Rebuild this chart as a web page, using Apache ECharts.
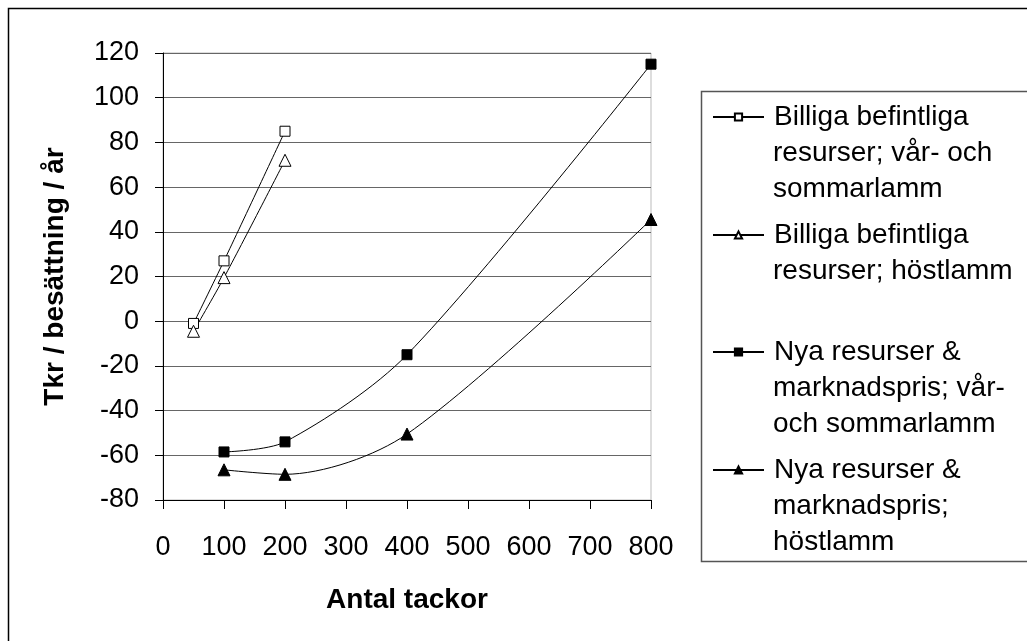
<!DOCTYPE html>
<html>
<head>
<meta charset="utf-8">
<script src="https://cdn.jsdelivr.net/npm/echarts@6/dist/echarts.min.js"></script>
<style>
html,body{margin:0;padding:0;background:#fff;}
#chart{width:1027px;height:641px;}
</style>
</head>
<body>
<div id="chart"></div>
<script>
// ---- data ----
const seriesNames = [
  'Billiga befintliga resurser; vår- och sommarlamm',
  'Billiga befintliga resurser; höstlamm',
  'Nya resurser & marknadspris; vår- och sommarlamm',
  'Nya resurser & marknadspris; höstlamm'
];
const legendLines = [
  ['Billiga befintliga', 'resurser; vår- och', 'sommarlamm'],
  ['Billiga befintliga', 'resurser; höstlamm'],
  ['Nya resurser &', 'marknadspris; vår-', 'och sommarlamm'],
  ['Nya resurser &', 'marknadspris;', 'höstlamm']
];
const xBillig = [50, 100, 200];
const yBilligVar = [-1, 27, 85];
const yBilligHost = [-4.5, 19.5, 72];
const xNya = [100, 200, 400, 800];
const yNyaVar = [-58.5, -54, -15, 115];
const yNyaHost = [-66.5, -68.5, -50.5, 45.5];
const xTitle = 'Antal tackor';
const yTitle = 'Tkr / besättning / år';

function pairs(xs, ys) { return xs.map((x, i) => [x, ys[i]]); }

const FONT = 'Liberation Sans, Arial, sans-serif';
const LEG_FS = 28;
const LEG_LH = 36;
const chart = echarts.init(document.getElementById('chart'));

const symbols = ['rect', 'triangle', 'rect', 'triangle'];
const fills = ['#fff', '#fff', '#000', '#000'];
const datas = [pairs(xBillig, yBilligVar), pairs(xBillig, yBilligHost), pairs(xNya, yNyaVar), pairs(xNya, yNyaHost)];
const sizes = [10, 12, 10, 12];

const iconY = [117, 235, 352, 470];
const textX = 773;
const legends = seriesNames.map((name, i) => ({
  data: [name],
  left: 712,
  top: iconY[i] - LEG_LH / 2,
  padding: 0,
  itemWidth: 51,
  itemHeight: 9,
  itemGap: 0,
  selectedMode: false,
  formatter: () => legendLines[i][0],
  textStyle: { fontFamily: FONT, fontSize: LEG_FS, color: '#000', lineHeight: LEG_LH, padding: [0, 0, 0, 5] }
}));

const graphics = [
  { type: 'rect', shape: { x: 8.5, y: 8.5, width: 1200, height: 800 }, style: { fill: 'none', stroke: '#000', lineWidth: 1.5 }, silent: true, z: -10 },
  { type: 'rect', shape: { x: 701.5, y: 91.5, width: 500, height: 470 }, style: { fill: '#fff', stroke: '#555', lineWidth: 1.5 }, silent: true, z: -5 }
];
legendLines.forEach((lines, i) => {
  lines.slice(1).forEach((ln, k) => {
    graphics.push({
      type: 'text', x: textX, y: iconY[i] + LEG_LH * (k + 1), silent: true, z: 10,
      style: { text: ln, fontFamily: FONT, fontSize: LEG_FS, fill: '#000', align: 'left', verticalAlign: 'middle' }
    });
  });
});

const option = {
  animation: false,
  backgroundColor: '#fff',
  legend: legends,
  grid: { left: 163, right: 376, top: 53, bottom: 141, show: true, borderColor: '#bbb', borderWidth: 1, containLabel: false },
  xAxis: {
    type: 'value', min: 0, max: 800, interval: 100,
    name: xTitle, nameLocation: 'middle', nameGap: 86,
    nameTextStyle: { fontFamily: FONT, fontSize: 28, fontWeight: 'bold', color: '#000' },
    axisLine: { show: true, onZero: false, lineStyle: { color: '#000', width: 1 } },
    axisTick: { show: true, inside: false, length: 9, lineStyle: { color: '#000' } },
    axisLabel: { fontFamily: FONT, fontSize: 27, color: '#000', margin: 34 },
    splitLine: { show: false }
  },
  yAxis: {
    type: 'value', min: -80, max: 120, interval: 20,
    name: yTitle, nameLocation: 'middle', nameGap: 94, nameRotate: 90,
    nameTextStyle: { fontFamily: FONT, fontSize: 28, fontWeight: 'bold', color: '#000' },
    axisLine: { show: true, lineStyle: { color: '#000', width: 1 } },
    axisTick: { show: true, inside: false, length: 8, lineStyle: { color: '#000' } },
    axisLabel: { fontFamily: FONT, fontSize: 27, color: '#000', margin: 24 },
    splitLine: { show: true, lineStyle: { color: '#666', width: 1 } }
  },
  graphic: graphics,
  series: seriesNames.map((name, i) => ({
    name: name,
    type: 'line',
    data: datas[i],
    smooth: 0.3,
    symbol: symbols[i],
    symbolSize: sizes[i],
    showAllSymbol: true,
    lineStyle: { color: '#000', width: 1 },
    itemStyle: { color: fills[i], borderColor: '#000', borderWidth: 1 },
    emphasis: { disabled: true },
    z: 3
  }))
};
chart.setOption(option);
</script>
</body>
</html>
